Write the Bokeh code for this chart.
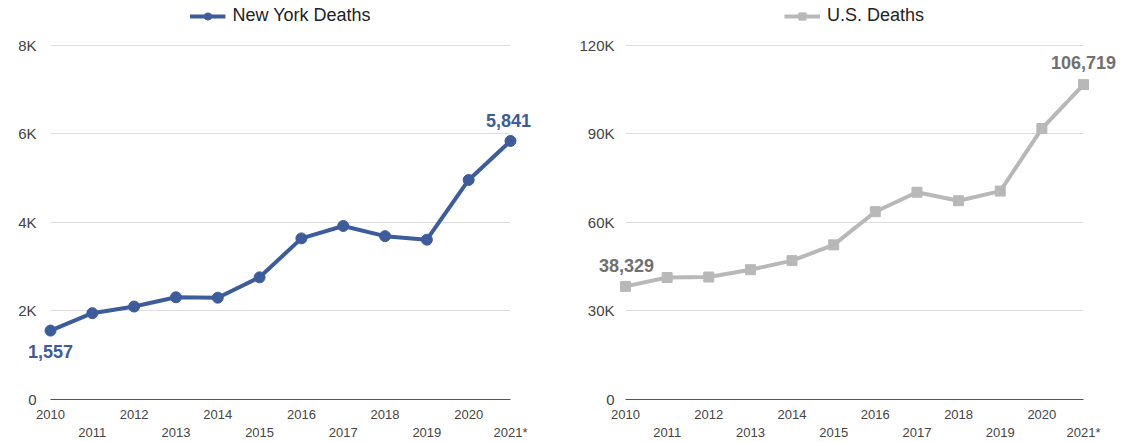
from bokeh.plotting import figure
from bokeh.models import (Legend, LegendItem, LinearAxis, FixedTicker,
                          ColumnDataSource, Range1d)
from bokeh.core.properties import value
from bokeh.layouts import row
from bokeh.embed import file_html
from bokeh.resources import INLINE

years = ["2010", "2011", "2012", "2013", "2014", "2015", "2016", "2017",
         "2018", "2019", "2020", "2021*"]
ny_deaths = [1557, 1950, 2100, 2310, 2300, 2760, 3640, 3920, 3690, 3610, 4960, 5841]
us_deaths = [38329, 41340, 41502, 43982, 47055, 52404, 63632, 70237, 67367,
             70630, 91799, 106719]
ny_ticks = [0, 2000, 4000, 6000, 8000]
ny_tick_labels = ["0", "2K", "4K", "6K", "8K"]
us_ticks = [0, 30000, 60000, 90000, 120000]
us_tick_labels = ["0", "30K", "60K", "90K", "120K"]

FONT = "Liberation Sans"
BLUE = "#3c5c9c"
GRAY = "#b8b8b8"
GRAY_TXT = "#707070"

FIG_W, FIG_H = 566, 442
BOTTOM = 42          # space below the frame for the two rows of year labels
TOP_GAP = 45         # top of figure to the highest gridline
FRAME_H = FIG_H - BOTTOM


def make_chart(values, name, color, label_color, marker, ticks, tick_labels,
               border_left, border_right, y_standoff, first_off, last_off):
    n = len(values)
    src = ColumnDataSource(dict(x=list(range(n)), y=values))
    y_top = ticks[-1] * FRAME_H / (FRAME_H - TOP_GAP)
    p = figure(width=FIG_W, height=FIG_H, output_backend="svg",
               toolbar_location=None,
               x_range=Range1d(0, n - 1), y_range=Range1d(0, y_top),
               x_axis_location=None, min_border_left=border_left,
               min_border_right=border_right, min_border_top=0,
               min_border_bottom=10)
    p.outline_line_color = None
    p.background_fill_color = "white"
    p.border_fill_color = "white"

    ya = p.yaxis[0]
    ya.ticker = FixedTicker(ticks=ticks)
    ya.major_label_overrides = {t: l for t, l in zip(ticks, tick_labels)}
    ya.axis_line_color = None
    ya.major_tick_line_color = None
    ya.minor_tick_line_color = None
    ya.major_tick_out = 0
    ya.major_tick_in = 0
    ya.major_label_standoff = y_standoff
    ya.major_label_text_font = FONT
    ya.major_label_text_font_size = "15px"
    ya.major_label_text_color = "#444444"

    p.ygrid.ticker = FixedTicker(ticks=ticks)
    p.ygrid.grid_line_color = "#dddddd"
    p.ygrid.grid_line_width = 1
    p.xgrid.grid_line_color = None

    even = [i for i in range(n) if i % 2 == 0]
    odd = [i for i in range(n) if i % 2 == 1]
    ax1 = LinearAxis(ticker=FixedTicker(ticks=even),
                     major_label_overrides={i: years[i] for i in even})
    ax2 = LinearAxis(ticker=FixedTicker(ticks=odd),
                     major_label_overrides={i: years[i] for i in odd})
    for ax, so in ((ax1, 10), (ax2, 3)):
        ax.major_tick_line_color = None
        ax.minor_tick_line_color = None
        ax.major_tick_out = 0
        ax.major_tick_in = 0
        ax.major_label_standoff = so
        ax.major_label_text_font = FONT
        ax.major_label_text_font_size = "13px"
        ax.major_label_text_color = "#444444"
    ax1.axis_line_color = "#555555"
    ax1.axis_line_width = 1.2
    ax2.axis_line_color = None
    p.add_layout(ax1, "below")
    p.add_layout(ax2, "below")

    lr = p.line("x", "y", source=src, line_color=color, line_width=4)
    if marker == "circle":
        mr = p.scatter("x", "y", source=src, marker="circle", size=11,
                       fill_color=color, line_color=color)
    else:
        mr = p.scatter("x", "y", source=src, marker="square", size=10,
                       fill_color=color, line_color=color)
    lr.level = "overlay"
    mr.level = "overlay"

    legend = Legend(items=[LegendItem(label=name, renderers=[lr, mr])],
                    location="top_center", orientation="horizontal",
                    border_line_color=None, background_fill_alpha=0,
                    label_text_font=FONT, label_text_font_size="18px",
                    label_text_color="#222222", glyph_width=36, glyph_height=18,
                    label_standoff=7, padding=0, margin=5, spacing=0)
    p.add_layout(legend, "center")

    for xi, off in ((0, first_off), (n - 1, last_off)):
        tr = p.text(x=[xi], y=[values[xi]], text=[f"{values[xi]:,}"],
                    x_offset=off[0], y_offset=-off[1],
                    text_align="center", text_baseline="middle",
                    text_font=value(FONT), text_font_size="18px",
                    text_font_style="bold", text_color=label_color)
        tr.level = "overlay"
    return p


p1 = make_chart(ny_deaths, "New York Deaths", BLUE, BLUE, "circle",
                ny_ticks, ny_tick_labels, 50, 56, 14, (0, -21), (-2, 20))
p2 = make_chart(us_deaths, "U.S. Deaths", GRAY, GRAY_TXT, "square",
                us_ticks, us_tick_labels, 625 - FIG_W, FIG_W - (1083 - FIG_W), 11,
                (1, 21), (0, 22))

layout = row(p1, p2)
open("out.html", "w").write(file_html(layout, INLINE))
